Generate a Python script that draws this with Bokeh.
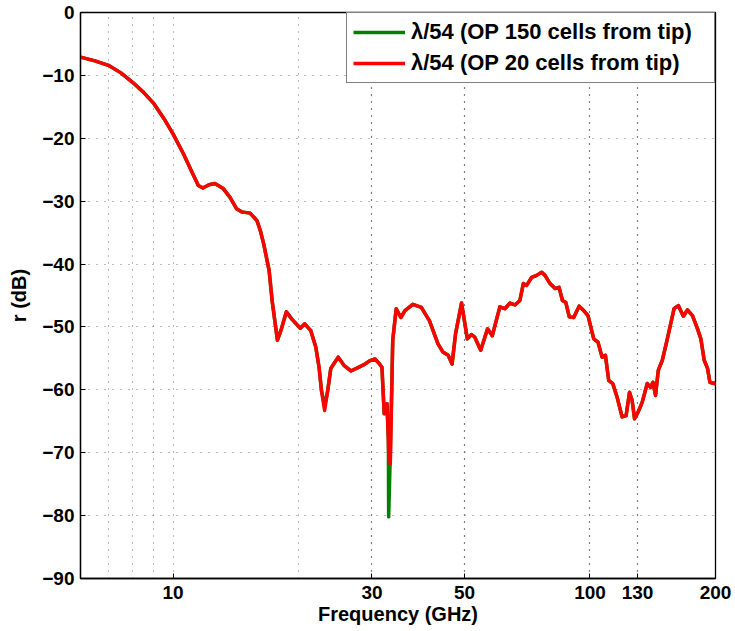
from bokeh.plotting import figure
from bokeh.models import Range1d, FixedTicker, Grid, Legend, LegendItem
from bokeh.embed import file_html
from bokeh.resources import INLINE

# ---- data ----
freq_ghz = [6.0, 6.5, 7.0, 7.5, 8.0, 8.5, 9.0, 9.5, 10.0, 10.6, 11.05, 11.5, 11.8,
            12.2, 12.6, 13.2, 13.7, 14.2, 14.6, 15.3, 15.9, 16.2, 16.5, 17.0, 17.3,
            17.8, 18.2, 18.7, 19.3, 20.2, 20.7, 21.4, 22.0, 22.4, 22.7, 23.1, 23.5,
            23.9, 24.9, 25.7, 26.7, 27.7, 28.7, 29.6, 30.5, 31.2, 31.7, 32.1, 32.6,
            32.85, 32.9, 33.2, 33.65, 34.3, 35.2, 36.0, 37.6, 39.4, 41.2, 43.2, 44.4,
            45.7, 46.7, 47.6, 49.2, 50.8, 52.0, 52.9, 54.7, 56.8, 58.3, 60.8, 62.5,
            64.3, 66.1, 67.9, 69.2, 70.5, 72.5, 74.5, 76.6, 78.0, 80.2, 82.5, 84.3,
            85.9, 87.5, 89.2, 91.4, 94.2, 96.6, 98.9, 102.1, 104.5, 106.9, 108.9,
            110.9, 113.4, 116.2, 119.4, 122.1, 124.4, 126.2, 127.9, 130.5, 133.4,
            137.2, 139.7, 141.6, 143.6, 145.8, 149.1, 153.3, 159.1, 162.9, 167.5,
            171.3, 176.1, 181.1, 184.5, 187.9, 191.4, 193.9, 198.6, 200.0]

r_op20_db = [-7.1, -7.7, -8.4, -9.6, -11.1, -12.7, -14.5, -16.8, -19.3, -22.5, -25.1,
             -27.5, -27.9, -27.4, -27.2, -28.0, -29.4, -31.2, -31.7, -31.9, -33.1,
             -34.7, -36.8, -41.0, -46.0, -52.1, -50.3, -47.6, -48.8, -50.2, -49.5,
             -50.6, -53.2, -56.4, -60.1, -63.3, -60.1, -56.6, -54.8, -56.1, -57.0,
             -56.5, -56.0, -55.4, -55.1, -55.8, -56.4, -63.8, -62.2, -68.0, -70.0,
             -71.8, -52.1, -47.1, -48.5, -47.4, -46.4, -46.9, -49.0, -52.7, -54.0,
             -54.5, -55.9, -51.1, -46.2, -51.9, -51.2, -51.6, -53.7, -50.3, -51.4,
             -46.8, -47.1, -46.2, -46.5, -45.8, -43.1, -43.4, -42.1, -41.8, -41.3,
             -41.8, -43.1, -43.9, -43.7, -45.8, -46.1, -48.4, -48.5, -46.7, -47.4,
             -48.2, -51.9, -52.4, -54.8, -54.5, -58.5, -59.0, -61.2, -64.3, -64.1,
             -60.4, -61.7, -64.6, -63.5, -62.0, -59.0, -59.6, -58.8, -60.9, -56.9,
             -55.3, -51.9, -47.1, -46.6, -48.3, -47.3, -48.2, -50.3, -51.9, -55.3,
             -56.6, -58.8, -59.0, -58.8]

r_op150_db = [-7.1, -7.7, -8.4, -9.6, -11.1, -12.7, -14.5, -16.8, -19.3, -22.5, -25.1,
              -27.5, -27.9, -27.4, -27.2, -28.0, -29.4, -31.2, -31.7, -31.9, -33.1,
              -34.7, -36.8, -41.0, -46.0, -52.1, -50.3, -47.6, -48.8, -50.2, -49.5,
              -50.6, -53.2, -56.4, -60.1, -62.6, -60.1, -56.6, -54.8, -56.1, -57.0,
              -56.5, -56.0, -55.4, -55.1, -55.8, -56.4, -63.8, -62.2, -68.0, -80.2,
              -70.0, -52.1, -47.1, -48.5, -47.4, -46.4, -46.9, -49.0, -52.7, -54.0,
              -54.5, -55.9, -51.1, -46.2, -51.9, -51.2, -51.6, -53.7, -50.3, -51.4,
              -46.8, -47.1, -46.2, -46.5, -45.8, -43.1, -43.4, -42.1, -41.8, -41.3,
              -41.8, -43.1, -43.9, -43.7, -45.8, -46.1, -48.4, -48.5, -46.7, -47.4,
              -48.2, -51.9, -52.4, -54.8, -54.5, -58.5, -59.0, -61.2, -64.3, -64.1,
              -60.4, -61.7, -64.6, -63.5, -62.0, -59.0, -59.6, -58.8, -60.9, -56.9,
              -55.3, -51.9, -47.1, -46.6, -48.3, -47.3, -48.2, -50.3, -51.9, -55.3,
              -56.6, -58.8, -59.0, -58.8]

x_ticks = [10, 30, 50, 100, 130, 200]
x_minor_grid = [7, 8, 9, 10, 20]
x_major_grid = [30, 50, 100, 130]
y_ticks = [-90, -80, -70, -60, -50, -40, -30, -20, -10, 0]
labels = ["\u03bb/54 (OP 150 cells from tip)", "\u03bb/54 (OP 20 cells from tip)"]

FONT = "Liberation Sans"

p = figure(width=735, height=631, x_axis_type="log",
           x_range=Range1d(6, 200), y_range=Range1d(-90, 0),
           output_backend="svg", toolbar_location=None,
           min_border_left=80, min_border_right=20, min_border_top=12,
           min_border_bottom=53)
p.background_fill_color = "white"
p.border_fill_color = "white"
p.outline_line_color = "black"
p.outline_line_width = 1.3
p.outline_line_alpha = 1.0

for ax in (p.xaxis[0], p.yaxis[0]):
    ax.major_label_text_font = FONT
    ax.major_label_text_font_style = "bold"
    ax.major_label_text_font_size = "19px"
    ax.major_label_text_color = "black"
    ax.axis_label_text_font = FONT
    ax.axis_label_text_font_style = "bold"
    ax.axis_label_text_font_size = "20px"
    ax.axis_label_text_color = "black"
    ax.major_tick_in = 5
    ax.major_tick_out = 0
    ax.minor_tick_in = 0
    ax.minor_tick_out = 0
    ax.axis_line_color = "black"
    ax.axis_line_width = 1.3
    ax.major_tick_line_color = "black"

p.xaxis.ticker = FixedTicker(ticks=x_ticks)
p.xaxis.major_label_overrides = {t: str(t) for t in x_ticks}
p.xaxis.axis_label = "Frequency (GHz)"
p.xaxis.major_label_standoff = 7
p.xaxis.axis_label_standoff = 1

p.yaxis.ticker = FixedTicker(ticks=y_ticks)
p.yaxis.major_label_overrides = {t: ("\u2212" + str(-t) if t < 0 else str(t)) for t in y_ticks}
p.yaxis.axis_label = "r (dB)"
p.yaxis.major_label_standoff = 6
p.yaxis.axis_label_standoff = 9

# grids
p.xgrid.ticker = FixedTicker(ticks=x_major_grid)
p.xgrid.grid_line_color = "black"
p.xgrid.grid_line_dash = "1 6"
p.xgrid.grid_line_width = 1.2
p.ygrid.ticker = FixedTicker(ticks=y_ticks[1:-1])
p.ygrid.grid_line_color = "#777777"
p.ygrid.grid_line_dash = "1 7"
p.ygrid.grid_line_width = 1
p.add_layout(Grid(dimension=0, ticker=FixedTicker(ticks=x_minor_grid),
                  grid_line_color="#777777", grid_line_dash="1 6", grid_line_width=1))

# lines
g = p.line(freq_ghz, r_op150_db, line_color="#007f00", line_width=3.5,
           line_join="round")
r = p.line(freq_ghz, r_op20_db, line_color="#ff0000", line_width=3.5,
           line_join="round")

legend = Legend(items=[LegendItem(label=labels[0], renderers=[g]),
                       LegendItem(label=labels[1], renderers=[r])],
                location="top_right", margin=0, padding=6, spacing=5,
                glyph_width=52, glyph_height=24, label_height=24,
                label_width=297, label_standoff=6,
                label_text_font=FONT, label_text_font_style="bold",
                label_text_font_size="22px", label_text_color="black",
                border_line_color="black", border_line_width=1.3,
                background_fill_alpha=1.0)
p.add_layout(legend, "center")

open("out.html", "w").write(file_html(p, INLINE))
